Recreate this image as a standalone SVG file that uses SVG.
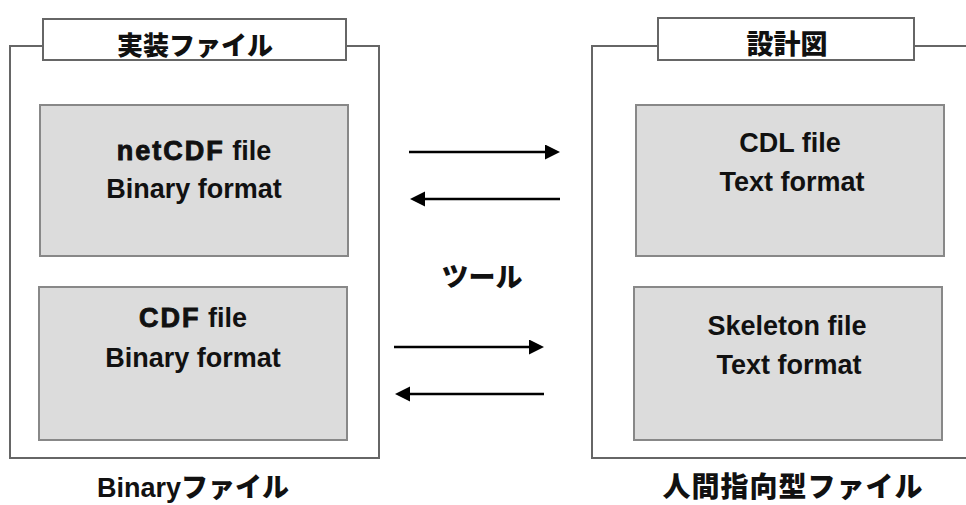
<svg xmlns="http://www.w3.org/2000/svg" width="966" height="505" viewBox="0 0 966 505">
<style>
.frame{fill:none;stroke:#666;stroke-width:2}
.title{fill:#fff;stroke:#666;stroke-width:2}
.box{fill:#dcdcdc;stroke:#888;stroke-width:2}
.t{font-family:"Liberation Sans",Arial,"Noto Sans CJK JP",sans-serif;font-weight:bold;font-size:27px;fill:#111;text-anchor:middle}
.j{font-family:"Noto Sans CJK JP","Liberation Sans",sans-serif;font-weight:900;fill:#111;text-anchor:middle}
.hv{stroke:#111;stroke-width:0.9;letter-spacing:2px}
.conn{stroke:#000;stroke-width:2.5;fill:none;marker-end:url(#ah)}
</style>
<defs>
<marker id="ah" markerUnits="userSpaceOnUse" markerWidth="16" markerHeight="16" viewBox="0 0 16 16" refX="0" refY="7.5" orient="auto">
<path d="M0,0 L15,7.5 L0,15 Z" fill="#000"/>
</marker>
</defs>
<rect width="966" height="505" fill="#fff"/>
<g id="left-group">
<rect class="frame" x="10" y="46" width="369" height="412"/>
<rect class="title" x="43" y="19" width="303" height="41"/>
<text class="j" x="195" y="55" font-size="26">実装ファイル</text>
</g>
<g id="right-group">
<path class="frame" d="M970,46 H592 V458 H970"/>
<rect class="title" x="658" y="18" width="256" height="42"/>
<text class="j" x="787" y="54" font-size="27">設計図</text>
</g>
<g id="netcdf">
<rect class="box" x="40" y="105" width="308" height="151"/>
<text class="t" x="194" y="160"><tspan class="hv">netCDF</tspan> file</text>
<text class="t" x="194" y="198">Binary format</text>
</g>
<g id="cdf">
<rect class="box" x="39" y="287" width="308" height="153"/>
<text class="t" x="193" y="327"><tspan class="hv">CDF</tspan> file</text>
<text class="t" x="193" y="367">Binary format</text>
</g>
<g id="cdl">
<rect class="box" x="636" y="105" width="308" height="151"/>
<text class="t" x="790" y="152">CDL file</text>
<text class="t" x="792" y="191">Text format</text>
</g>
<g id="skeleton">
<rect class="box" x="634" y="287" width="308" height="153"/>
<text class="t" x="787" y="335">Skeleton file</text>
<text class="t" x="789" y="374">Text format</text>
</g>
<g id="connectors">
<line class="conn" x1="409" y1="152" x2="545" y2="152"/>
<line class="conn" x1="560" y1="199" x2="425" y2="199"/>
<line class="conn" x1="394" y1="347" x2="529" y2="347"/>
<line class="conn" x1="544" y1="394" x2="410" y2="394"/>
</g>
<g id="tool-label">
<text class="j" x="482" y="287" font-size="27">ツール</text>
</g>
<g id="bottom-labels">
<text class="j" x="193" y="497" font-size="27"><tspan font-family="Liberation Sans, Arial, sans-serif" font-weight="bold">Binary</tspan>ファイル</text>
<text class="j" x="793" y="497" font-size="28" letter-spacing="1">人間指向型ファイル</text>
</g>
</svg>
